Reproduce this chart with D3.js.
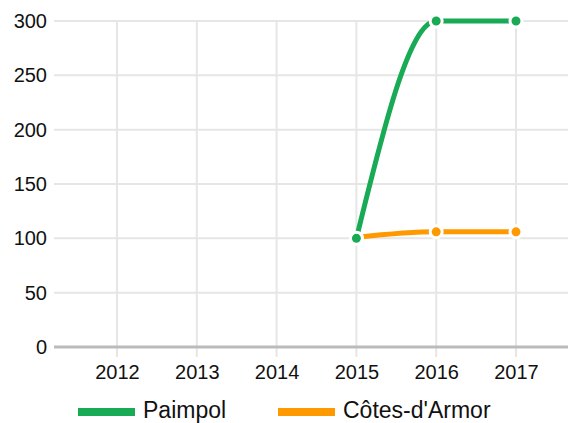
<!DOCTYPE html>
<html>
<head>
<meta charset="utf-8">
<script src="https://cdn.jsdelivr.net/npm/d3@7"></script>
<style>
  html, body { margin: 0; padding: 0; background: #fff; }
  svg { display: block; font-family: "Liberation Sans", Arial, sans-serif; }
</style>
</head>
<body>
<svg id="chart" width="568" height="423"></svg>
<script>
// Years on the x axis
const years = ["2012", "2013", "2014", "2015", "2016", "2017"];
// Series values (null = no data for that year)
const paimpol = [null, null, null, 100, 300, 300];
const cotesArmor = [null, null, null, 101, 106, 106];
// Y axis ticks
const yTicks = [0, 50, 100, 150, 200, 250, 300];

const seriesNames = ["Paimpol", "Côtes-d'Armor"];
const seriesColors = ["#19aa56", "#ff9900"];

const svg = d3.select("#chart");
const plotLeft = 54, plotRight = 568, plotTop = 21, plotBottom = 347;
const FONT = "'Liberation Sans', Arial, sans-serif";

const x = d3.scalePoint().domain(years).range([117, 516]);
const y = d3.scaleLinear().domain([0, 300]).range([plotBottom, plotTop]);

// horizontal grid
svg.append("g").selectAll("line").data(yTicks.filter(d => d > 0)).join("line")
  .attr("x1", plotLeft).attr("x2", plotRight)
  .attr("y1", d => y(d)).attr("y2", d => y(d))
  .attr("stroke", "#e6e6e6").attr("stroke-width", 2);

// vertical grid
svg.append("g").selectAll("line").data(years).join("line")
  .attr("x1", d => x(d)).attr("x2", d => x(d))
  .attr("y1", plotTop).attr("y2", plotBottom + 10)
  .attr("stroke", "#e6e6e6").attr("stroke-width", 2);

// baseline
svg.append("line")
  .attr("x1", plotLeft).attr("x2", plotRight)
  .attr("y1", y(0)).attr("y2", y(0))
  .attr("stroke", "#bbbbbb").attr("stroke-width", 3);

// y axis labels
const yAxis = d3.axisLeft(y).tickValues(yTicks).tickSize(0).tickPadding(0);
const gy = svg.append("g").attr("transform", "translate(47,0)").call(yAxis);
gy.select(".domain").remove();
gy.selectAll("text").attr("font-size", 20).attr("fill", "#111").attr("font-family", FONT);

// x axis labels
const xAxis = d3.axisBottom(x).tickSize(0).tickPadding(0);
const gx = svg.append("g").attr("transform", "translate(0,364)").call(xAxis);
gx.select(".domain").remove();
gx.selectAll("text").attr("font-size", 20).attr("fill", "#111").attr("font-family", FONT)
  .attr("dy", "0.75em");

// series
const allSeries = [paimpol, cotesArmor];
const line = d3.line()
  .defined(d => d.v != null)
  .x(d => x(d.year)).y(d => y(d.v))
  .curve(d3.curveMonotoneX);

// draw Côtes-d'Armor first so Paimpol sits on top
[1, 0].forEach(i => {
  const data = years.map((yr, j) => ({ year: yr, v: allSeries[i][j] }));
  const g = svg.append("g");
  g.append("path").datum(data)
    .attr("d", line)
    .attr("fill", "none")
    .attr("stroke", seriesColors[i])
    .attr("stroke-width", 5);
  g.selectAll("circle").data(data.filter(d => d.v != null)).join("circle")
    .attr("cx", d => x(d.year)).attr("cy", d => y(d.v))
    .attr("r", 6)
    .attr("fill", seriesColors[i])
    .attr("stroke", "#fff").attr("stroke-width", 3);
});

// legend
const legendX = [78, 278];
seriesNames.forEach((name, i) => {
  const g = svg.append("g").attr("transform", `translate(${legendX[i]},412)`);
  g.append("rect").attr("x", 0).attr("y", -4).attr("width", 57).attr("height", 8)
    .attr("fill", seriesColors[i]);
  g.append("text").attr("x", 65).attr("y", 6)
    .attr("font-size", 23).attr("fill", "#111").attr("font-family", FONT)
    .text(name);
});
</script>
</body>
</html>
